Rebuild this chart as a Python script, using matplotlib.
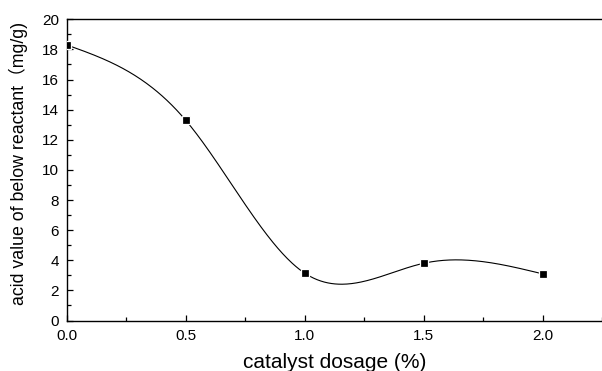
import numpy as np
import matplotlib
matplotlib.use("Agg")
import matplotlib.pyplot as plt
from matplotlib.ticker import MultipleLocator

dosage = [0.0, 0.5, 1.0, 1.5, 2.0]
acid_value = [18.3, 13.3, 3.15, 3.8, 3.1]

x_label = "catalyst dosage (%)"
y_label = "acid value of below reactant（mg/g)"


def natural_spline(x, y, n=400):
    x = np.asarray(x, float)
    y = np.asarray(y, float)
    m = len(x)
    h = np.diff(x)
    A = np.zeros((m, m))
    b = np.zeros(m)
    A[0, 0] = 1
    A[-1, -1] = 1
    for i in range(1, m - 1):
        A[i, i - 1] = h[i - 1]
        A[i, i] = 2 * (h[i - 1] + h[i])
        A[i, i + 1] = h[i]
        b[i] = 3 * ((y[i + 1] - y[i]) / h[i] - (y[i] - y[i - 1]) / h[i - 1])
    c = np.linalg.solve(A, b)
    xs = np.linspace(x[0], x[-1], n)
    ys = np.empty_like(xs)
    for k, xv in enumerate(xs):
        i = min(np.searchsorted(x, xv, side="right") - 1, m - 2)
        bi = (y[i + 1] - y[i]) / h[i] - h[i] * (2 * c[i] + c[i + 1]) / 3
        di = (c[i + 1] - c[i]) / (3 * h[i])
        dx = xv - x[i]
        ys[k] = y[i] + bi * dx + c[i] * dx ** 2 + di * dx ** 3
    return xs, ys


plt.rcParams["font.family"] = ["Liberation Sans", "Noto Sans CJK SC", "DejaVu Sans"]

fig = plt.figure(figsize=(6.02, 3.71), dpi=100)
ax = fig.add_axes([0.1108, 0.136, 0.8892, 0.812])

xs, ys = natural_spline(dosage, acid_value)
ax.plot(xs, ys, color="black", lw=0.8, zorder=2)
ax.plot(dosage, acid_value, ls="none", marker="s", ms=5.5, mfc="black",
        mec="white", mew=0.9, zorder=3)

ax.set_xlim(0, 2.25)
ax.set_ylim(0, 20)
ax.xaxis.set_major_locator(MultipleLocator(0.5))
ax.xaxis.set_minor_locator(MultipleLocator(0.25))
ax.yaxis.set_major_locator(MultipleLocator(2))
ax.yaxis.set_minor_locator(MultipleLocator(1))
ax.xaxis.set_major_formatter(matplotlib.ticker.FormatStrFormatter("%.1f"))

ax.tick_params(which="both", direction="in", labelsize=11, colors="black",
               width=0.9)
ax.tick_params(axis="x", which="major", pad=6)
ax.tick_params(axis="y", which="major", pad=5.5)
ax.tick_params(which="major", length=4)
ax.tick_params(which="minor", length=3)
ax.spines["right"].set_visible(False)
for s in ["left", "bottom", "top"]:
    ax.spines[s].set_linewidth(1.0)

ax.set_xlabel(x_label, fontsize=15, labelpad=7.5)
ax.set_ylabel(y_label, fontsize=12.8)
ax.yaxis.set_label_coords(-0.072, 0.52)

fig.savefig("out.png", dpi=100)
